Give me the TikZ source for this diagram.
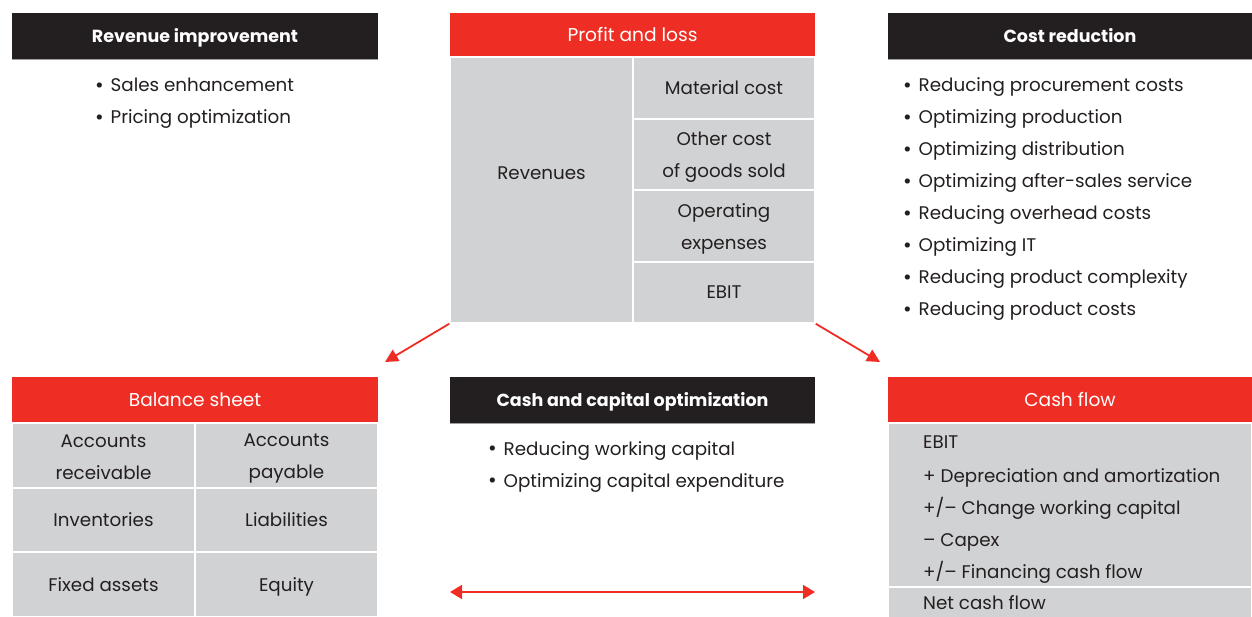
\documentclass[tikz,border=0pt]{standalone}
\usepackage{fontspec}
\setmainfont{Poppins}
\usetikzlibrary{arrows.meta}
\definecolor{bred}{HTML}{EE2E24}
\definecolor{bgray}{HTML}{D1D2D4}
\definecolor{bblack}{HTML}{231F20}
\definecolor{ltxt}{HTML}{231F20}
\newcommand\bul{\makebox[15.5pt][l]{\fontsize{21}{32}\selectfont\raisebox{-0.5pt}{\textbullet}}}
\begin{document}
\begin{tikzpicture}[x=1pt,y=-1pt,
  txt/.style={font=\fontsize{18.3}{32}\selectfont, text=ltxt, align=center, inner sep=0pt},
  one/.style={text height=13pt, text depth=0pt},
  redhead/.style={fill=bred, text=white, font=\fontsize{18.6}{20}\selectfont, inner sep=0pt, one},
  blackhead/.style={fill=bblack, text=white, font=\bfseries\fontsize{17.5}{20}\selectfont, inner sep=0pt, one},
  cell/.style={txt, fill=bgray, draw=white, line width=1.5pt},
  item/.style={font=\fontsize{18.3}{32}\selectfont, text=ltxt, inner sep=0pt, anchor=base west},
  redarrow/.style={draw=bred, line width=1.8pt, -{Triangle[length=13pt,width=13pt]}},
  dblarrow/.style={draw=bred, line width=1.8pt, {Triangle[length=12pt,width=14pt]}-{Triangle[length=12pt,width=14pt]}}
]
\useasboundingbox (0,0) rectangle (1252,617);
\fill[white] (0,0) rectangle (1252,617);

% Revenue improvement
\node[blackhead, minimum width=366pt, minimum height=46pt] (revh) at (195,36) {Revenue improvement};
\draw[bgray!75!black, line width=1pt] (revh.south west) -- (revh.south east);
\node[item] (r1) at (95,92) {\bul Sales enhancement};
\node[item] (r2) at (95,124) {\bul Pricing optimization};

% Profit and loss
\node[redhead, minimum width=365pt, minimum height=44pt] (plh) at (632.5,35) {Profit and loss};
\node[cell, minimum width=183pt, minimum height=266pt] (rev) at (541.5,190) {};
\node[txt, one] (revt) at (541.5,173) {Revenues};
\node[cell, one, minimum width=182pt, minimum height=62pt] (mat) at (724,88) {Material cost};
\node[cell, minimum width=182pt, minimum height=71pt, text depth=0pt] (oth) at (724,154.5) {Other cost\\of goods sold};
\node[cell, minimum width=182pt, minimum height=72pt] (opx) at (724,226) {};
\node[txt] (opxt) at (724,229) {Operating\\expenses};
\node[cell, one, minimum width=182pt, minimum height=61pt] (ebit) at (724,292.5) {EBIT};

% Cost reduction
\node[blackhead, minimum width=364pt, minimum height=46pt] (costh) at (1070,36) {Cost reduction};
\draw[bgray!75!black, line width=1pt] (costh.south west) -- (costh.south east);
\node[item] (c1) at (903,92) {\bul Reducing procurement costs};
\node[item] (c2) at (903,124) {\bul Optimizing production};
\node[item] (c3) at (903,156) {\bul Optimizing distribution};
\node[item] (c4) at (903,188) {\bul Optimizing after-sales service};
\node[item] (c5) at (903,220) {\bul Reducing overhead costs};
\node[item] (c6) at (903,252) {\bul Optimizing IT};
\node[item] (c7) at (903,284) {\bul Reducing product complexity};
\node[item] (c8) at (903,316) {\bul Reducing product costs};

% Arrows from P&L
\coordinate (la) at (385,362);
\coordinate (ra) at (880,362);
\draw[redarrow] (rev.south west) -- (la);
\draw[redarrow] (ebit.south east) -- (ra);

% Balance sheet
\node[redhead, minimum width=366pt, minimum height=46pt] (bsh) at (195,400) {Balance sheet};
\node[cell, minimum width=183pt, minimum height=65pt] (ar) at (103.5,455.5) {};
\node[txt] (art) at (103.5,457.5) {Accounts\\receivable};
\node[cell, minimum width=183pt, minimum height=65pt] (ap) at (286.5,455.5) {};
\node[txt] (apt) at (286.5,458.5) {Accounts\\payable};
\node[cell, one, minimum width=183pt, minimum height=64pt] (inv) at (103.5,520) {Inventories};
\node[cell, one, minimum width=183pt, minimum height=64pt] (lia) at (286.5,520) {Liabilities};
\node[cell, one, minimum width=183pt, minimum height=65pt] (fa) at (103.5,584.5) {Fixed assets};
\node[cell, one, minimum width=183pt, minimum height=65pt] (eq) at (286.5,584.5) {Equity};

% Cash and capital optimization
\node[blackhead, minimum width=365pt, minimum height=46pt] (cch) at (632.5,400) {Cash and capital optimization};
\draw[bgray!75!black, line width=1pt] (cch.south west) -- (cch.south east);
\node[item] (k1) at (488,455) {\bul Reducing working capital};
\node[item] (k2) at (488,487) {\bul Optimizing capital expenditure};
\coordinate (dl) at (450,592);
\coordinate (dr) at (815,592);
\draw[dblarrow] (dl) -- (dr);

% Cash flow
\node[redhead, minimum width=364pt, minimum height=46pt] (cfh) at (1070,400) {Cash flow};
\node[cell, minimum width=364pt, minimum height=164pt] (cfb) at (1070,505) {};
\node[cell, minimum width=364pt, minimum height=31pt] (ncf) at (1070,602.5) {};
\node[item] (f1) at (923,448) {EBIT};
\node[item] (f2) at (923,482) {+ Depreciation and amortization};
\node[item] (f3) at (923,514) {+/– Change working capital};
\node[item] (f4) at (923,546) {– Capex};
\node[item] (f5) at (923,578) {+/– Financing cash flow};
\node[item] (f6) at (923,609) {Net cash flow};
\end{tikzpicture}
\end{document}
